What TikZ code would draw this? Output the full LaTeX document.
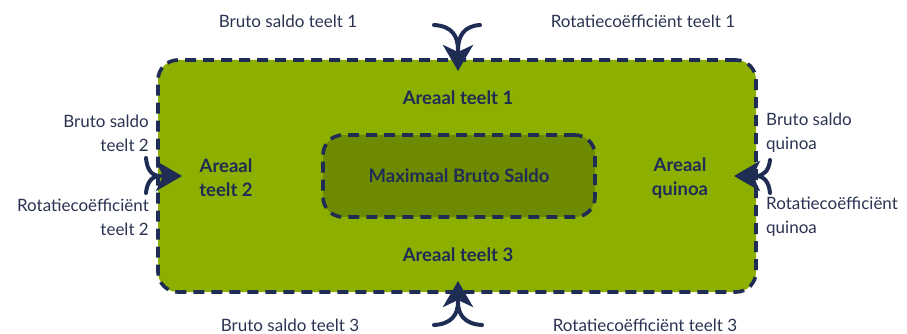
\documentclass[tikz,border=0pt]{standalone}
\usepackage{fontspec}
\setmainfont{Lato}
\usetikzlibrary{arrows.meta}
\definecolor{outerg}{HTML}{8DAF00}
\definecolor{innerg}{HTML}{6E8A00}
\definecolor{navy}{HTML}{1F2D55}
\definecolor{txt}{HTML}{2A3352}
\tikzset{
  dbox/.style={draw=navy, line width=3.6pt, dash pattern=on 11pt off 7pt, rounded corners=20pt, inner sep=0pt},
  lbl/.style={text=txt, font=\fontsize{17}{24}\selectfont, inner sep=0pt, align=center},
  blbl/.style={text=navy, font=\bfseries\fontsize{18.5}{24}\selectfont, inner sep=0pt, align=center},
  curve/.style={draw=navy, line width=4pt, line cap=round},
  tipline/.style={draw=navy, line width=4pt, -{Stealth[length=26pt, width=30pt, inset=7pt]}},
}
\begin{document}
\begin{tikzpicture}[x=1pt, y=-1pt]
\useasboundingbox (0,0) rectangle (907,334);
\node[dbox, fill=outerg, minimum width=598pt, minimum height=232pt] (outer) at (457,176) {};
\node[dbox, fill=innerg, minimum width=272pt, minimum height=82pt] (inner) at (459,176) {};
\node[blbl] (max) at (459,176) {Maximaal Bruto Saldo};
\node[blbl] (a1) at (458,98) {Areaal teelt 1};
\node[blbl] (a3) at (458,255) {Areaal teelt 3};
\node[blbl] (a2) at (226,178) {Areaal\\teelt 2};
\node[blbl] (aq) at (680,178) {Areaal\\quinoa};
\node[lbl] (b1) at (288,21) {Bruto saldo teelt 1};
\node[lbl] (r1) at (643,21) {Rotatiecoëfficiënt teelt 1};
\node[lbl] (b3) at (290,325) {Bruto saldo teelt 3};
\node[lbl] (r3) at (645,325) {Rotatiecoëfficiënt teelt 3};
\node[lbl, anchor=east, align=right] (b2) at (149,133) {Bruto saldo\\teelt 2};
\node[lbl, anchor=east, align=right] (r2) at (149,217) {Rotatiecoëfficiënt\\teelt 2};
\node[lbl, anchor=west, align=left] (bq) at (766,133) {Bruto saldo\\quinoa};
\node[lbl, anchor=west, align=left] (rq) at (766,217) {Rotatiecoëfficiënt\\quinoa};
% top arrow
\coordinate (t1) at (434,25); \coordinate (t2) at (480,25);
\coordinate (tm) at (458,50); \coordinate (tt) at (458,71);
\draw[curve] (t1) .. controls (452,26) and (458,36) .. (tm);
\draw[curve] (t2) .. controls (464,26) and (458,36) .. (tm);
\draw[tipline] (tm) -- (tt);
% bottom arrow
\coordinate (u1) at (434,325); \coordinate (u2) at (482,325);
\coordinate (um) at (458,302); \coordinate (ut) at (458,281);
\draw[curve] (u1) .. controls (452,324) and (458,314) .. (um);
\draw[curve] (u2) .. controls (464,324) and (458,314) .. (um);
\draw[tipline] (um) -- (ut);
% left arrow
\coordinate (l1) at (146,158); \coordinate (l2) at (146,193);
\coordinate (lm) at (160,176); \coordinate (lt) at (182,176);
\draw[curve] (l1) .. controls (147,170) and (152,176) .. (lm);
\draw[curve] (l2) .. controls (147,182) and (152,176) .. (lm);
\draw[tipline] (lm) -- (lt);
% right arrow
\coordinate (q1) at (770,160); \coordinate (q2) at (770,193);
\coordinate (qm) at (756,176); \coordinate (qt) at (734,176);
\draw[curve] (q1) .. controls (769,170) and (764,176) .. (qm);
\draw[curve] (q2) .. controls (769,182) and (764,176) .. (qm);
\draw[tipline] (qm) -- (qt);
\end{tikzpicture}
\end{document}
